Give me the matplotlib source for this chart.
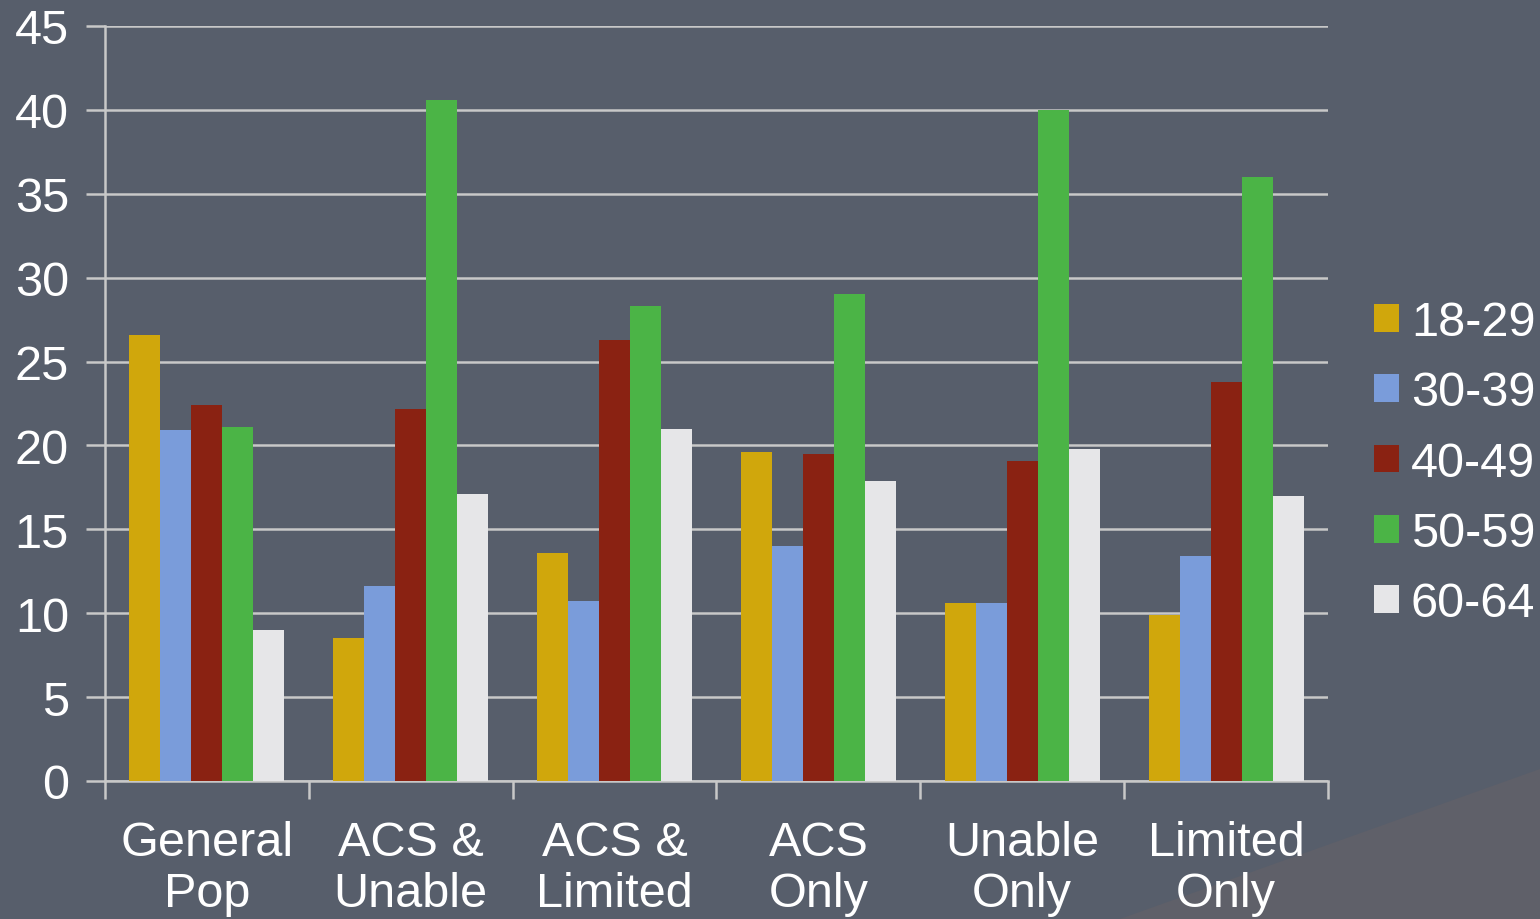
import matplotlib.pyplot as plt
import matplotlib.patches as mpatches
import numpy as np

# data
categories = ['General\nPop', 'ACS &\nUnable', 'ACS &\nLimited', 'ACS\nOnly', 'Unable\nOnly', 'Limited\nOnly']
age_groups = ['18-29', '30-39', '40-49', '50-59', '60-64']
v_18_29 = [26.6, 8.5, 13.6, 19.6, 10.6, 9.9]
v_30_39 = [20.9, 11.6, 10.7, 14.0, 10.6, 13.4]
v_40_49 = [22.4, 22.2, 26.3, 19.5, 19.1, 23.8]
v_50_59 = [21.1, 40.6, 28.3, 29.0, 40.0, 36.0]
v_60_64 = [9.0, 17.1, 21.0, 17.9, 19.8, 17.0]
colors = ['#D0A70C', '#7A9CDA', '#8A2212', '#4BB446', '#E6E6E8']

bg = '#575E6B'
plt.rcParams['font.family'] = ['Liberation Sans', 'DejaVu Sans']

fig = plt.figure(figsize=(15.4, 9.2), dpi=100, facecolor=bg)

# decorative swoosh in the bottom right corner, kept behind everything
swoosh = mpatches.Polygon([[1120 / 1540, 0], [1, 150 / 920], [1, 0]], closed=True,
                          transform=fig.transFigure, facecolor='#5F6069', edgecolor='none', zorder=-10)
fig.patches.append(swoosh)

ax = fig.add_axes([105 / 1540, 0.15, (1328 - 105) / 1540, (782 - 27) / 920])
ax.set_facecolor('none')

series = [v_18_29, v_30_39, v_40_49, v_50_59, v_60_64]
x = np.arange(len(categories))
w = 0.152
for i, (vals, c) in enumerate(zip(series, colors)):
    ax.bar(x + (i - 2) * w, vals, w, color=c, label=age_groups[i], zorder=3)

ax.set_xlim(-0.5, len(categories) - 0.5)
ax.set_ylim(0, 45)
ax.set_yticks(range(0, 46, 5))
ax.yaxis.grid(True, color='#C8C8C8', linewidth=1.8, zorder=0)

ax.set_xticks(x)
ax.set_xticklabels(categories, fontsize=35, color='white', linespacing=1.17)
ax.tick_params(axis='x', length=0, pad=28)
ax.set_xticks(np.arange(-0.5, len(categories), 1), minor=True)
ax.tick_params(axis='x', which='minor', length=13, width=1.8, color='#C8C8C8', direction='out')
ax.tick_params(axis='y', labelsize=35, labelcolor='white', length=14, width=1.8,
               color='#C8C8C8', pad=12)

for s in ['top', 'right']:
    ax.spines[s].set_visible(False)
ax.spines['left'].set_color('#C8C8C8')
ax.spines['left'].set_linewidth(1.8)
ax.spines['bottom'].set_color('#C8C8C8')
ax.spines['bottom'].set_linewidth(1.8)

leg = ax.legend(loc='center left', bbox_to_anchor=(1.022, 0.421), frameon=False,
                fontsize=35, labelcolor='white', handlelength=0.5, handleheight=0.5,
                handletextpad=0.25, labelspacing=0.52, borderaxespad=0)

fig.savefig('out.png', dpi=100, facecolor=bg)
